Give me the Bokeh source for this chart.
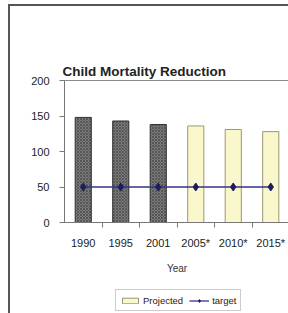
from bokeh.plotting import figure
from bokeh.models import FixedTicker, Legend, LegendItem, Range1d, LinearAxis, Title
from bokeh.layouts import column
from bokeh.embed import file_html
from bokeh.resources import INLINE

# ---- data ----
years = ["1990", "1995", "2001", "2005*", "2010*", "2015*"]
actual_years = ["1990", "1995", "2001"]
actual_values = [148, 143, 138]
projected_years = ["2005*", "2010*", "2015*"]
projected_values = [136, 131, 128]
target_values = [50, 50, 50, 50, 50, 50]
y_ticks = [0, 50, 100, 150, 200]

FONT = "Liberation Sans"
GRAY_FILL, GRAY_LINE = "#7c7c7c", "#333333"
YEL_FILL, YEL_LINE = "#fbf7cc", "#9a9872"
TGT_LINE, TGT_MARK = "#34348a", "#1c1c5e"

pos = {y: i + 0.5 for i, y in enumerate(years)}
x_all = [pos[y] for y in years]
x_act = [pos[y] for y in actual_years]
x_proj = [pos[y] for y in projected_years]

p = figure(frame_width=223, frame_height=140, x_range=Range1d(0, len(years)), y_range=Range1d(0, 200),
           output_backend="svg", toolbar_location=None, title=None,
           min_border_left=54, min_border_right=1, min_border_top=74, min_border_bottom=68)
p.styles = {"margin-left": "8px", "margin-top": "4px",
            "border-top": "2px solid #555555", "border-left": "2px solid #555555"}
p.background_fill_color = "white"
p.border_fill_color = "white"
p.outline_line_color = "#8a8a8a"
p.grid.visible = False

p.vbar(x=x_act, top=actual_values, width=0.43, fill_color=GRAY_FILL,
       line_color=GRAY_LINE, line_width=1,
       hatch_pattern="diagonal_cross", hatch_color="#3c3c3c", hatch_scale=3, hatch_weight=0.6)
p.vbar(x=x_proj, top=projected_values, width=0.43, fill_color=YEL_FILL,
       line_color=YEL_LINE, line_width=1)
p.line(x_all, target_values, line_color=TGT_LINE, line_width=1.3)
p.scatter(x_all, target_values, marker="diamond", size=8, fill_color=TGT_MARK, line_color=TGT_MARK)

# x axis
xa = p.below[0]
xa.ticker = FixedTicker(ticks=x_all, minor_ticks=[i for i in range(1, len(years))])
xa.major_label_overrides = {pos[y]: y for y in years}
xa.major_tick_out = 0
xa.major_tick_in = 0
xa.minor_tick_out = 5
xa.minor_tick_in = 0
xa.minor_tick_line_color = "#777777"
xa.major_label_standoff = 9
xa.major_label_text_font = FONT
xa.major_label_text_font_size = "11px"
xa.major_label_text_color = "#222222"
xa.axis_line_color = "#777777"
xa.axis_label = "Year"
xa.axis_label_text_font = FONT
xa.axis_label_text_font_size = "10px"
xa.axis_label_text_font_style = "normal"
xa.axis_label_text_color = "#333333"
xa.axis_label_standoff = 11

# y axis
ya = p.left[0]
ya.ticker = FixedTicker(ticks=y_ticks)
ya.major_tick_out = 5
ya.major_tick_in = 0
ya.minor_tick_out = 0
ya.major_tick_line_color = "#777777"
ya.axis_line_color = "#777777"
ya.major_label_standoff = 10
ya.major_label_text_font = FONT
ya.major_label_text_font_size = "11px"
ya.major_label_text_color = "#222222"

# title, then an empty spacer that sits between it and the frame
title = Title(text="Child Mortality Reduction", align="left", offset=-2, standoff=4,
              text_font=FONT, text_font_size="13.5px", text_font_style="bold", text_color="#222222")
p.add_layout(title, "above")
spacer = LinearAxis(ticker=FixedTicker(ticks=[]), major_tick_out=46, major_tick_in=0,
                    minor_tick_out=0, minor_tick_in=0, major_label_standoff=0,
                    axis_line_color=None, major_tick_line_color=None, minor_tick_line_color=None)
p.add_layout(spacer, "above")

# legend strip below the chart (its glyphs sit outside the strip's visible ranges)
q = figure(width=278, height=40, x_range=Range1d(-20, -10), y_range=Range1d(-20, -10),
           output_backend="svg", toolbar_location=None, title=None,
           x_axis_type=None, y_axis_type=None, min_border=0)
q.styles = {"margin-left": "8px", "border-left": "2px solid #555555"}
q.outline_line_color = None
q.grid.visible = False
r_proj = q.vbar(x=x_proj, top=projected_values, width=0.43, fill_color=YEL_FILL, line_color=YEL_LINE, line_width=1)
r_line = q.line(x_all, target_values, line_color=TGT_LINE, line_width=1.3)
r_mark = q.scatter(x_all, target_values, marker="diamond", size=8, fill_color=TGT_MARK, line_color=TGT_MARK)

legend = Legend(items=[LegendItem(label="Projected", renderers=[r_proj]),
                       LegendItem(label="target", renderers=[r_line, r_mark])],
                orientation="horizontal", location=(51, 17),
                label_text_font=FONT, label_text_font_size="9.5px", label_text_color="#222222",
                glyph_width=20, glyph_height=7, label_height=12, label_standoff=3,
                spacing=6, padding=4, margin=0,
                border_line_color="#999999", background_fill_alpha=1)
q.add_layout(legend, "center")

layout = column(p, q, spacing=0)
open("out.html", "w").write(file_html(layout, INLINE))
